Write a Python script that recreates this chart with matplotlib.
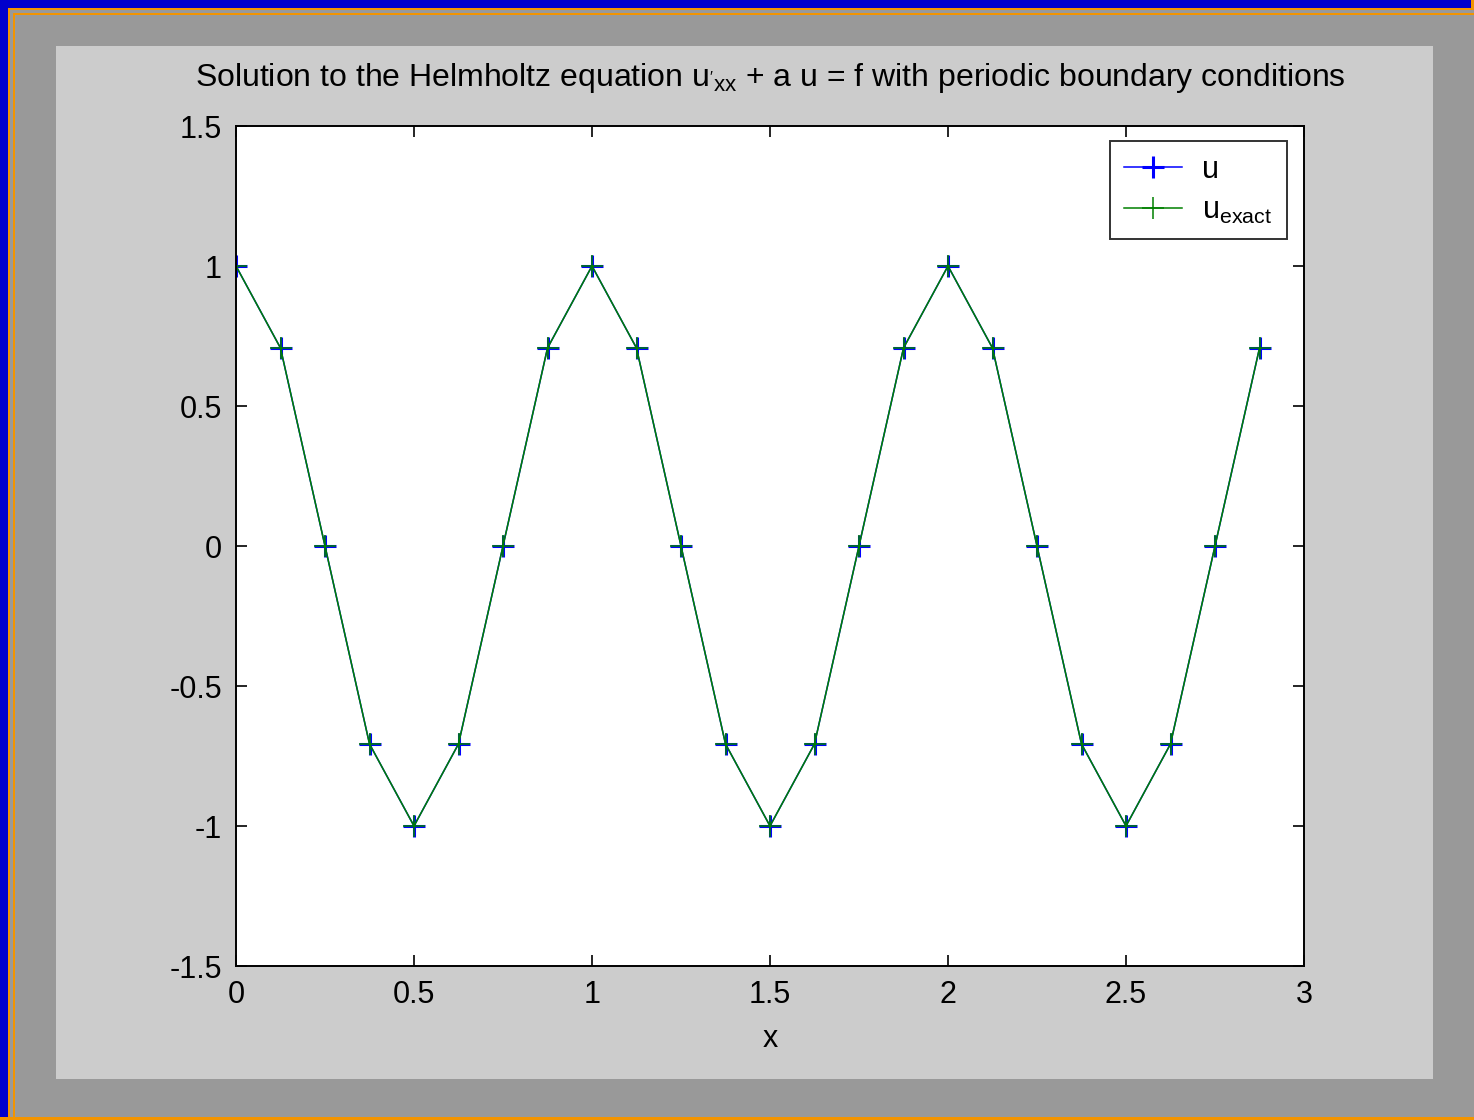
import matplotlib.pyplot as plt
from matplotlib.patches import Rectangle

# grid points and values
x_vals = [0, 0.125, 0.25, 0.375, 0.5, 0.625, 0.75, 0.875, 1.0, 1.125, 1.25, 1.375,
          1.5, 1.625, 1.75, 1.875, 2.0, 2.125, 2.25, 2.375, 2.5, 2.625, 2.75, 2.875]
u_vals = [1, 0.707, 0, -0.707, -1, -0.707, 0, 0.707, 1, 0.707, 0, -0.707,
          -1, -0.707, 0, 0.707, 1, 0.707, 0, -0.707, -1, -0.707, 0, 0.707]
u_exact = [1, 0.707, 0, -0.707, -1, -0.707, 0, 0.707, 1, 0.707, 0, -0.707,
           -1, -0.707, 0, 0.707, 1, 0.707, 0, -0.707, -1, -0.707, 0, 0.707]

W, H = 1474, 1120
plt.rcParams['font.family'] = ['Liberation Sans', 'DejaVu Sans']
fig = plt.figure(figsize=(W / 100, H / 100), dpi=100)
fig.patch.set_facecolor('#999999')

def px_rect(x0, y0, x1, y1, **kw):
    # rectangle in pixel coordinates (top-left origin), kept behind the axes
    fig.patches.append(Rectangle((x0 / W, 1 - y1 / H), (x1 - x0) / W, (y1 - y0) / H,
                                 transform=fig.transFigure, zorder=-5, **kw))

# outer bevelled frame
px_rect(0, 0, W, H, facecolor='#f29400', edgecolor='none')
px_rect(0, 0, W - 3, H - 3, facecolor='#0000cc', edgecolor='none')
px_rect(8, 8, W, H, facecolor='#f29400', edgecolor='none')
px_rect(10, 10, W, H - 3, facecolor='#999999', edgecolor='none')
px_rect(13, 13, W, H - 3, facecolor='#f29400', edgecolor='none')
px_rect(15, 15, W, H - 3, facecolor='#999999', edgecolor='none')
# matlab figure panel
px_rect(56, 46, 1433, 1079, facecolor='#cccccc', edgecolor='none')

ax = fig.add_axes([236 / W, 1 - 966 / H, (1304 - 236) / W, (966 - 126) / H])
ax.set_facecolor('white')
ax.plot(x_vals, u_vals, color='#0000ff', marker='+', markersize=16.5, mew=2.2,
        lw=1.1, label='u')
ax.plot(x_vals, u_exact, color='#008000', marker='+', markersize=16.5, mew=1.1,
        lw=1.1, label=r'u$_{\mathregular{exact}}$ ')

ax.set_xlim(0, 3)
ax.set_ylim(-1.5, 1.5)
ax.set_xticks([0, 0.5, 1, 1.5, 2, 2.5, 3])
ax.set_xticklabels(['0', '0.5', '1', '1.5', '2', '2.5', '3'])
ax.set_yticks([-1.5, -1, -0.5, 0, 0.5, 1, 1.5])
ax.set_yticklabels(['-1.5', '-1', '-0.5', '0', '0.5', '1', '1.5'])
ax.tick_params(direction='in', top=True, right=True, length=8, width=1.2,
               labelsize=22, colors='black', pad=10)
for s in ax.spines.values():
    s.set_linewidth(1.4)

ax.set_xlabel('x', fontsize=22, labelpad=10)
ax.set_title(r"Solution to the Helmholtz equation u$_{\mathregular{'xx}}$ + a u = f with periodic boundary conditions",
             fontsize=23, pad=29)

leg = ax.legend(loc='upper right', fontsize=22, frameon=True, fancybox=False,
                edgecolor='black', handlelength=1.9, handletextpad=0.65,
                borderpad=0.45, labelspacing=0.35, borderaxespad=0,
                bbox_to_anchor=(0.984, 0.982))
leg.get_frame().set_linewidth(1.4)

fig.savefig('out.png', dpi=100, facecolor=fig.get_facecolor())
